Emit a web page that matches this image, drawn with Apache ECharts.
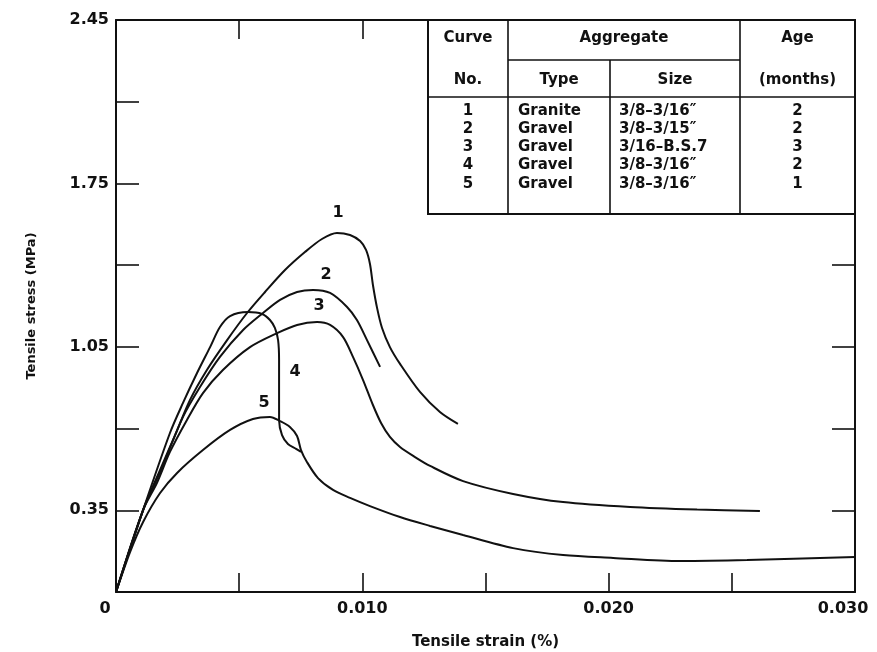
<!DOCTYPE html>
<html>
<head>
<meta charset="utf-8">
<style>
  html, body { margin: 0; padding: 0; background: #fff; }
  #chart { width: 877px; height: 652px; }
</style>
<script src="https://cdn.jsdelivr.net/npm/echarts@6/dist/echarts.min.js"></script>
</head>
<body>
<div id="chart"></div>
<script>
'use strict';

// tensile strain (%) / tensile stress (MPa)
var curve1 = [
    [0, 0], [0.00110, 0.351], [0.00179, 0.523], [0.00240, 0.672], [0.00300, 0.822],
    [0.00369, 0.951], [0.00451, 1.079], [0.00532, 1.195], [0.00605, 1.285], [0.00686, 1.379],
    [0.00767, 1.456], [0.00836, 1.512], [0.00897, 1.538], [0.00950, 1.529], [0.00991, 1.503],
    [0.01015, 1.465], [0.01031, 1.405], [0.01043, 1.315], [0.01060, 1.216], [0.01080, 1.131],
    [0.01112, 1.049], [0.01153, 0.977], [0.01234, 0.857], [0.01315, 0.771], [0.01388, 0.720]
];
var curve2 = [
    [0, 0], [0.00110, 0.351], [0.00179, 0.514], [0.00272, 0.750], [0.00341, 0.878],
    [0.00422, 1.007], [0.00516, 1.122], [0.00597, 1.195], [0.00666, 1.251], [0.00735, 1.285],
    [0.00800, 1.294], [0.00869, 1.281], [0.00938, 1.221], [0.00978, 1.165], [0.01019, 1.079],
    [0.01072, 0.964]
];
var curve3 = [
    [0, 0], [0.00110, 0.351], [0.00166, 0.467], [0.00219, 0.600], [0.00288, 0.737],
    [0.00353, 0.852], [0.00434, 0.951], [0.00544, 1.049], [0.00654, 1.109], [0.00735, 1.144],
    [0.00816, 1.156], [0.00869, 1.144], [0.00922, 1.092], [0.00962, 1.007], [0.01003, 0.908],
    [0.01043, 0.801], [0.01076, 0.724], [0.01112, 0.664], [0.01153, 0.621], [0.01214, 0.578],
    [0.01275, 0.540], [0.01409, 0.475], [0.01612, 0.420], [0.01815, 0.385], [0.02087, 0.364],
    [0.02359, 0.353], [0.02614, 0.347]
];
var curve4 = [
    [0, 0], [0.00110, 0.351], [0.00219, 0.681], [0.00272, 0.810], [0.00329, 0.938],
    [0.00382, 1.049], [0.00422, 1.135], [0.00463, 1.182], [0.00536, 1.199], [0.00593, 1.191],
    [0.00625, 1.165], [0.00645, 1.131], [0.00658, 1.079], [0.00662, 0.994], [0.00662, 0.822],
    [0.00662, 0.737], [0.00674, 0.672], [0.00698, 0.634], [0.00731, 0.613], [0.00751, 0.600]
];
var curve5 = [
    [0, 0], [0.00057, 0.171], [0.00110, 0.300], [0.00179, 0.424], [0.00248, 0.510],
    [0.00353, 0.608], [0.00463, 0.694], [0.00556, 0.741], [0.00625, 0.750], [0.00666, 0.732],
    [0.00706, 0.707], [0.00735, 0.668], [0.00751, 0.608], [0.00775, 0.557], [0.00820, 0.488],
    [0.00881, 0.437], [0.00950, 0.403], [0.01031, 0.368], [0.01153, 0.321], [0.01275, 0.283],
    [0.01409, 0.244], [0.01612, 0.188], [0.01815, 0.158], [0.02018, 0.146], [0.02290, 0.133],
    [0.02562, 0.137], [0.03000, 0.150]
];

// curve number labels, placed in data coordinates
var curveNames = ['1', '2', '3', '4', '5'];
var curveLabelPos = [[0.00901, 1.623], [0.00853, 1.358], [0.00824, 1.225], [0.00727, 0.942], [0.00601, 0.810]];

// inset table
var tableTop = ['Curve', 'Aggregate', 'Age'];
var tableSub = ['No.', 'Type', 'Size', '(months)'];
var tableNo = ['1', '2', '3', '4', '5'];
var tableType = ['Granite', 'Gravel', 'Gravel', 'Gravel', 'Gravel'];
var tableSize = ['3/8\u20133/16\u2033', '3/8\u20133/15\u2033', '3/16\u2013B.S.7', '3/8\u20133/16\u2033', '3/8\u20133/16\u2033'];
var tableAge = ['2', '2', '3', '2', '1'];

var FONT = '"DejaVu Sans", sans-serif';
var INK = '#111';

function buildTable() {
    var x0 = 428, x1 = 508, x2 = 610, x3 = 740, x4 = 855;
    var y0 = 20, yMid = 60, yHead = 97, y1 = 214;
    var txt = { fill: INK, font: 'bold 15px ' + FONT, textAlign: 'center', textVerticalAlign: 'middle' };
    var els = [];
    els.push({ type: 'rect', z: 100, shape: { x: x0, y: y0, width: x4 - x0, height: y1 - y0 },
        style: { fill: '#fff', stroke: INK, lineWidth: 2 } });
    function line(xa, ya, xb, yb) {
        els.push({ type: 'line', z: 101, shape: { x1: xa, y1: ya, x2: xb, y2: yb }, style: { stroke: INK, lineWidth: 1.6 } });
    }
    line(x1, y0, x1, y1);
    line(x2, yMid, x2, y1);
    line(x3, y0, x3, y1);
    line(x1, yMid, x3, yMid);
    line(x0, yHead, x4, yHead);
    function text(s, x, y, align) {
        els.push({ type: 'text', z: 101, x: x, y: y,
            style: Object.assign({}, txt, { text: s, textAlign: align || 'center' }) });
    }
    text(tableTop[0], (x0 + x1) / 2, 38);
    text(tableTop[1], (x1 + x3) / 2, 38);
    text(tableTop[2], (x3 + x4) / 2, 38);
    text(tableSub[0], (x0 + x1) / 2, 80);
    text(tableSub[1], (x1 + x2) / 2, 80);
    text(tableSub[2], (x2 + x3) / 2, 80);
    text(tableSub[3], (x3 + x4) / 2, 80);
    for (var i = 0; i < tableNo.length; i++) {
        var y = 111 + i * 18.2;
        text(tableNo[i], (x0 + x1) / 2, y);
        text(tableType[i], 518, y, 'left');
        text(tableSize[i], 619, y, 'left');
        text(tableAge[i], (x3 + x4) / 2, y);
    }
    return els;
}

var chart = echarts.init(document.getElementById('chart'));

var axisLine = { show: true, onZero: false, lineStyle: { color: INK, width: 2 } };

var xLabel = function (v) {
    var k = Math.round(v / 0.005);
    if (k % 2 !== 0) return '';
    if (k === 0) return '{first|0}';
    if (k === 6) return '{last|' + v.toFixed(3) + '}';
    return v.toFixed(3);
};
var yLabel = function (v) {
    var k = Math.round(v / 0.35);
    return k % 2 === 1 ? v.toFixed(2) : '';
};

var curves = [curve1, curve2, curve3, curve4, curve5];
var series = curves.map(function (c, i) {
    return {
        name: curveNames[i],
        type: 'line',
        data: c,
        smooth: 0.3,
        showSymbol: false,
        lineStyle: { color: INK, width: 2 },
        z: 3
    };
});
series.push({
    type: 'scatter',
    data: curveLabelPos.map(function (p, i) { return { value: p, name: curveNames[i] }; }),
    symbolSize: 0.1,
    itemStyle: { color: '#fff', opacity: 1 },
    label: {
        show: true, position: 'inside', formatter: '{b}',
        color: INK, textBorderWidth: 0,
        fontSize: 16, fontFamily: FONT, fontWeight: 'bold'
    },
    z: 4
});

var labelFont = { color: INK, fontSize: 16, fontFamily: FONT, fontWeight: 'bold' };

var options = {
    animation: false,
    backgroundColor: '#fff',
    grid: { left: 116, right: 22, top: 20, bottom: 60, outerBoundsMode: 'none' },
    xAxis: [
        {
            type: 'value', min: 0, max: 0.030, interval: 0.005, position: 'bottom',
            name: 'Tensile strain (%)', nameLocation: 'middle', nameGap: 43,
            nameTextStyle: { color: INK, fontSize: 15, fontFamily: FONT, fontWeight: 'bold' },
            axisLine: axisLine,
            axisTick: { show: true, inside: true, length: 19, lineStyle: { color: INK, width: 1.6 } },
            axisLabel: Object.assign({
                formatter: xLabel, margin: 9, showMaxLabel: true, showMinLabel: true,
                rich: {
                    first: Object.assign({ padding: [0, 22, 0, 0] }, labelFont),
                    last: Object.assign({ padding: [0, 24, 0, 0] }, labelFont)
                }
            }, labelFont),
            splitLine: { show: false }
        },
        {
            type: 'value', min: 0, max: 0.030, interval: 0.005, position: 'top',
            axisLine: axisLine,
            axisTick: { show: true, inside: true, length: 19, lineStyle: { color: INK, width: 1.6 } },
            axisLabel: { show: false },
            splitLine: { show: false }
        }
    ],
    yAxis: [
        {
            type: 'value', min: 0, max: 2.45, interval: 0.35, position: 'left',
            name: 'Tensile stress (MPa)', nameLocation: 'middle', nameGap: 78,
            nameTextStyle: { color: INK, fontSize: 13, fontFamily: FONT, fontWeight: 'bold' },
            axisLine: axisLine,
            axisTick: { show: true, inside: true, length: 23, lineStyle: { color: INK, width: 1.6 } },
            axisLabel: Object.assign({ formatter: yLabel, margin: 7 }, labelFont),
            splitLine: { show: false }
        },
        {
            type: 'value', min: 0, max: 2.45, interval: 0.35, position: 'right',
            axisLine: axisLine,
            axisTick: { show: true, inside: true, length: 23, lineStyle: { color: INK, width: 1.6 } },
            axisLabel: { show: false },
            splitLine: { show: false }
        }
    ],
    graphic: buildTable(),
    series: series
};

chart.setOption(options);
window.onresize = function () {
    chart.resize();
};
</script>
</body>
</html>
